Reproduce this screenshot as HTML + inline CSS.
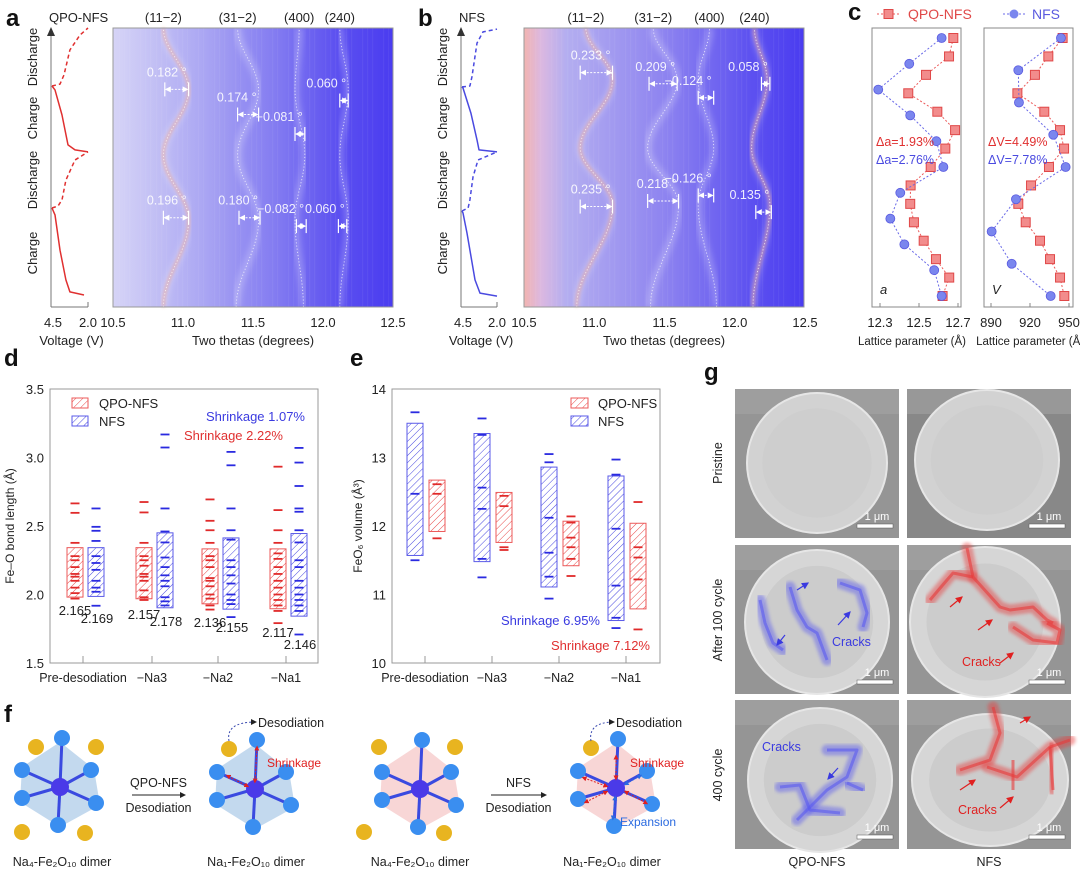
<!DOCTYPE html>
<html><head><meta charset="utf-8">
<style>
html,body{margin:0;padding:0;background:#fff;}
svg{display:block;font-family:"Liberation Sans",Arial,sans-serif;}
</style></head>
<body>
<svg id="fig" width="1080" height="871" viewBox="0 0 1080 871" xmlns="http://www.w3.org/2000/svg">
<defs>
<linearGradient id="gA" x1="0" x2="1" y1="0" y2="0">
<stop offset="0" stop-color="#d6d4f6"/><stop offset="0.3" stop-color="#aeaaf3"/><stop offset="0.6" stop-color="#8078f1"/><stop offset="0.8" stop-color="#5c50f0"/><stop offset="1" stop-color="#4a3cf0"/>
</linearGradient>
<linearGradient id="gB" x1="0" x2="1" y1="0" y2="0">
<stop offset="0" stop-color="#f2b4b0"/><stop offset="0.06" stop-color="#dcb8e0"/><stop offset="0.15" stop-color="#b4aef0"/><stop offset="0.5" stop-color="#8e84f0"/><stop offset="0.8" stop-color="#5e52f0"/><stop offset="1" stop-color="#4a3cf0"/>
</linearGradient>
<filter id="blur4"><feGaussianBlur stdDeviation="3"/></filter>
<filter id="blur2"><feGaussianBlur stdDeviation="1.5"/></filter>
<pattern id="hatchR" width="5" height="5" patternUnits="userSpaceOnUse" patternTransform="rotate(45)"><line x1="0" y1="0" x2="0" y2="5" stroke="#e84848" stroke-width="1"/></pattern>
<pattern id="hatchB" width="5" height="5" patternUnits="userSpaceOnUse" patternTransform="rotate(45)"><line x1="0" y1="0" x2="0" y2="5" stroke="#4848e0" stroke-width="1"/></pattern>
<marker id="ahW" markerWidth="6" markerHeight="6" refX="3" refY="3" orient="auto-start-reverse"><path d="M0,0 L6,3 L0,6z" fill="#fff"/></marker>
<marker id="ahK" markerWidth="6" markerHeight="6" refX="5" refY="3" orient="auto"><path d="M0,0 L6,3 L0,6z" fill="#222"/></marker>
<marker id="ahR" markerWidth="5" markerHeight="5" refX="2.5" refY="2.5" orient="auto-start-reverse"><path d="M0,0 L5,2.5 L0,5z" fill="#e02020"/></marker>
<marker id="ahBl" markerWidth="5" markerHeight="5" refX="2.5" refY="2.5" orient="auto-start-reverse"><path d="M0,0 L5,2.5 L0,5z" fill="#2a6ae0"/></marker>
<marker id="ahP" markerWidth="6" markerHeight="6" refX="5" refY="3" orient="auto"><path d="M0,0 L6,3 L0,6z" fill="#3a3ae0"/></marker>
<marker id="ahRd" markerWidth="6" markerHeight="6" refX="5" refY="3" orient="auto"><path d="M0,0 L6,3 L0,6z" fill="#e02020"/></marker>
</defs>
<g id="root"></g>
</svg>
<script>
// ---------- data: panel a/b heatmap peak tracks ----------
const nodeTimeA = [0, 31.2, 54.5, 77.8, 100];
const peakNamesAB = ["(11\u22122)", "(31\u22122)", "(400)", "(240)"];
const peakA_112 = [10.86, 11.04, 10.86, 11.04, 10.86];
const peakA_312 = [11.38, 11.54, 11.39, 11.54, 11.39];
const peakA_400 = [11.86, 11.80, 11.87, 11.80, 11.83];
const peakA_240 = [12.12, 12.18, 12.12, 12.18, 12.12];
const nodeTimeB = [0, 36.6, 57, 81.4, 100];
const peakB_112 = [10.875, 11.13, 10.90, 11.13, 10.94];
const peakB_312 = [11.40, 11.60, 11.38, 11.59, 11.42];
const peakB_400 = [11.87, 11.74, 11.85, 11.74, 11.82];
const peakB_240 = [12.13, 12.25, 12.12, 12.23, 12.14];
const thetaTicks = [10.5, 11.0, 11.5, 12.0, 12.5];
// voltage profiles (time 0-100, voltage V)
const vA_t1 = [4.3,5.4,9.7,20.4,33.0,35.5], vA_v1 = [2.27,3.22,3.49,3.89,4.23,4.43];
const vA_t2 = [35.5,36.2,38.4,45.5,52.7,55.6], vA_v2 = [4.43,4.03,3.76,3.49,2.88,2.0];
const vA_t3 = [55.6,56.3,58.1,68.8,77.8,79.2], vA_v3 = [2.0,2.88,3.35,3.76,4.23,4.43];
const vA_t4 = [79.2,79.9,83.2,92.1,97.5,100], vA_v4 = [4.43,3.89,3.62,3.22,2.54,2.0];
const vB_t1 = [3.9,5.0,9.7,26.5,33.7,34.4], vB_v1 = [2.0,3.18,3.53,4.08,4.36,4.43];
const vB_t2 = [34.4,35.5,38.4,46.6,52.7,55.6], vB_v2 = [4.43,4.01,3.88,3.67,3.32,2.0];
const vB_t3 = [55.6,56.3,59.9,69.5,78.5,78.9], vB_v3 = [2.0,3.25,3.39,3.81,4.36,4.43];
const vB_t4 = [78.9,79.2,82.4,94.6,98.6,99.6], vB_v4 = [4.43,3.88,3.74,3.39,2.97,2.0];
// annotations (label, theta1, theta2, time)
const annA_lab = ["0.182 \u00b0","0.174 \u00b0","\u22120.081 \u00b0","0.060 \u00b0","0.196 \u00b0","0.180 \u00b0","\u22120.082 \u00b0","0.060 \u00b0"];
const annA_t1 = [10.87,11.39,11.80,12.12,10.86,11.40,11.81,12.11];
const annA_t2 = [11.04,11.54,11.87,12.18,11.04,11.55,11.88,12.17];
const annA_time = [78,69,62,74,32,32,29,29];
const annB_lab = ["0.233 \u00b0","0.209 \u00b0","\u22120.124 \u00b0","0.058 \u00b0","0.235 \u00b0","0.218 \u00b0","\u22120.126 \u00b0","0.135 \u00b0"];
const annB_t1 = [10.90,11.39,11.74,12.19,10.90,11.38,11.74,12.15];
const annB_t2 = [11.13,11.59,11.85,12.25,11.13,11.60,11.85,12.26];
const annB_time = [84,80,75,80,36,38,40,34];
// ---------- panel c ----------
const cTicksA = [12.3, 12.5, 12.7];
const cTicksV = [890, 920, 950];
const cQPO_a = [12.676,12.654,12.536,12.445,12.594,12.685,12.635,12.56,12.457,12.455,12.474,12.524,12.587,12.655,12.621];
const cNFS_a = [12.616,12.45,12.291,12.455,12.589,12.625,12.404,12.353,12.425,12.578,12.616];
const cQPO_V = [945.1,934.1,923.8,910.3,931,943.1,946.2,934.6,920.8,911,916.7,927.7,935.4,943.1,946.4];
const cNFS_V = [943.8,911,911.5,937.9,947.4,909.2,890.5,905.9,935.9];
// ---------- panel d ----------
const dCats = ["Pre-desodiation","\u2212Na3","\u2212Na2","\u2212Na1"];
const dTicks = [1.5,2.0,2.5,3.0,3.5];
const dRedLo = [1.981,1.969,1.932,1.896], dRedHi = [2.342,2.342,2.333,2.333];
const dBlueLo = [1.986,1.903,1.893,1.842], dBlueHi = [2.342,2.45,2.413,2.445];
const dRedMean = ["2.165","2.157","2.136","2.117"];
const dBlueMean = ["2.169","2.178","2.155","2.146"];
const dRedDash = [[2.665,2.596,2.377,2.28,2.25,2.2,2.15,2.13,2.1,2.05,2.01,1.97],[2.675,2.599,2.377,2.28,2.25,2.21,2.15,2.13,2.1,2.03,1.98,1.96],[2.694,2.538,2.469,2.377,2.28,2.25,2.2,2.12,2.1,2.06,2.0,1.97,1.92,1.89],[2.933,2.616,2.469,2.377,2.3,2.26,2.2,2.15,2.1,2.05,2.0,1.96,1.92,1.88,1.791]];
const dBlueDash = [[2.628,2.494,2.465,2.391,2.28,2.23,2.18,2.1,2.05,2.02,1.918],[3.168,3.073,2.628,2.46,2.38,2.27,2.2,2.14,2.1,2.06,1.98,1.95,1.92],[3.041,2.943,2.628,2.469,2.4,2.25,2.2,2.14,2.08,2.0,1.96,1.93,1.835],[3.07,2.963,2.792,2.628,2.604,2.469,2.38,2.25,2.2,2.1,2.05,2.0,1.96,1.92,1.88,1.708]];
// ---------- panel e ----------
const eTicks = [10,11,12,13,14];
const eBlueLo = [11.57,11.48,11.11,10.62], eBlueHi = [13.50,13.35,12.86,12.73];
const eRedLo = [11.92,11.76,11.42,10.79], eRedHi = [12.67,12.49,12.07,12.04];
const eBlueDash = [[13.66,12.47,11.50],[13.57,13.33,12.56,12.25,11.52,11.25],[13.05,12.93,12.12,11.61,11.26,10.94],[12.97,12.75,11.96,11.13,10.66,10.51]];
const eRedDash = [[12.61,12.47,11.82],[12.44,12.29,11.69,11.65],[12.14,12.05,11.83,11.69,11.52,11.27],[12.35,11.69,11.54,11.22,10.49]];

// ---------- helpers ----------
const NS = "http://www.w3.org/2000/svg";
const root = document.getElementById("root");
function mk(tag, attrs, parent){const e=document.createElementNS(NS,tag);for(const k in attrs)e.setAttribute(k,attrs[k]);(parent||root).appendChild(e);return e;}
function txt(x,y,s,attrs,parent){const e=mk("text",Object.assign({x:x,y:y},attrs||{}),parent);e.textContent=s;return e;}
function grp(name,parent){const g=mk("g",{},parent);


return g;}
const yT = t => 307 - t*2.79;
const xA = v => 113 + (v-10.5)*140;
const xB = v => 524 + (v-10.5)*140.5;
function smoothTrack(times, vals, xf){
  let d=""; const N=60;
  for(let i=0;i<times.length-1;i++){
    for(let k=0;k<=N;k++){
      if(i>0&&k===0)continue;
      const f=k/N, w=(1-Math.cos(Math.PI*f))/2;
      const v=vals[i]+(vals[i+1]-vals[i])*w, t=times[i]+(times[i+1]-times[i])*f;
      d+=(d?"L":"M")+xf(v).toFixed(1)+","+yT(t).toFixed(1);
    }
  }
  return d;
}
function heatPanel(name, x0, x1, grad, xf, times, tracks, hot, tLab, vx0, vx1, vCol, vTimes, vVals, annLab, annT1, annT2, annTime, title, letter, lx){
  const g=grp(name);
  txt(lx,26,letter,{"font-size":24,"font-weight":"bold","fill":"#111"},g);
  const hm=grp(name+"-heatmap",g);
  mk("rect",{x:x0,y:28,width:x1-x0,height:279,fill:"url(#"+grad+")"},hm);
  for(let i=0;i<40;i++){const xx=x0+((i*37)%(x1-x0));mk("rect",{x:xx,y:28,width:1.2,height:279,fill:"#fff",opacity:0.05},hm);}
  tracks.forEach((tr,i)=>{
    const d=smoothTrack(times,tr,xf);
    const band=mk("path",{d:d,fill:"none",stroke:"#fff","stroke-width":8,opacity:0.22,filter:"url(#blur4)"},hm);
    
    
    if(hot[i]){const h=mk("path",{d:d,fill:"none",stroke:"#f4a286","stroke-width":3,opacity:0.55,filter:"url(#blur2)"},hm);
      
      }
    const dl=mk("path",{d:d,fill:"none",stroke:"#fff","stroke-width":0.9,"stroke-dasharray":"1.2 2",opacity:0.75},hm);
    
    
    const lab=txt(xf(tr[tr.length-1]),22,peakNamesAB[i],{"font-size":13,"text-anchor":"middle",fill:"#222"},g);
    
    
  });
  mk("rect",{x:x0,y:28,width:x1-x0,height:279,fill:"none",stroke:"#999","stroke-width":1},hm);
  thetaTicks.forEach(v=>{const t=txt(xf(v),327,v.toFixed(1),{"font-size":13,"text-anchor":"middle",fill:"#222"},g);
    
    });
  const xl=txt((x0+x1)/2,345,"Two thetas (degrees)",{"font-size":13,"text-anchor":"middle",fill:"#222"},g);
  
  
  annLab.forEach((s,i)=>{
    const a=xf(annT1[i]), b=xf(annT2[i]), y=yT(annTime[i]);
    const ag=grp("shift-annotation",g);
    mk("line",{x1:a,y1:y-7,x2:a,y2:y+7,stroke:"#fff","stroke-width":1.2},ag);
    mk("line",{x1:b,y1:y-7,x2:b,y2:y+7,stroke:"#fff","stroke-width":1.2},ag);
    mk("line",{x1:a+3,y1:y,x2:b-3,y2:y,stroke:"#fff","stroke-width":1,"stroke-dasharray":"2 1.5","marker-start":"url(#ahW)","marker-end":"url(#ahW)"},ag);
    txt(b-2,y-13,s,{"font-size":12.5,"text-anchor":"end",fill:"#fff",opacity:0.9},ag);
  });
  const vg=grp(name+"-voltage",g);
  const xv=v=>vx0+(4.5-v)/2.5*(vx1-vx0);
  mk("line",{x1:vx0,y1:307,x2:vx0,y2:34,stroke:"#777","stroke-width":1},vg);
  mk("path",{d:`M${vx0-4},36 L${vx0+4},36 L${vx0},27z`,fill:"#333"},vg);
  mk("line",{x1:vx0,y1:307,x2:vx1,y2:307,stroke:"#777","stroke-width":1},vg);
  mk("line",{x1:vx0,y1:307,x2:vx0,y2:302,stroke:"#777"},vg);
  mk("line",{x1:vx1,y1:307,x2:vx1,y2:302,stroke:"#777"},vg);
  txt(vx0+2,327,"4.5",{"font-size":13,"text-anchor":"middle",fill:"#222"},vg);
  txt(vx1,327,"2.0",{"font-size":13,"text-anchor":"middle",fill:"#222"},vg);
  txt((vx0+vx1)/2+2,345,"Voltage (V)",{"font-size":13,"text-anchor":"middle",fill:"#222"},vg);
  txt(vx0-2,22,title,{"font-size":13,"text-anchor":"start",fill:"#222"},vg);
  vTimes.forEach((tt,i)=>{
    let d=""; tt.forEach((t,k)=>{d+=(k?"L":"M")+xv(vVals[i][k]).toFixed(1)+","+yT(t).toFixed(1);});
    const p=mk("path",{d:d,fill:"none",stroke:vCol,"stroke-width":1.5,"stroke-dasharray":i%2?"4 3":"none","stroke-linejoin":"round"},vg);
    
    
  });
  const seg=[["Charge",253],["Discharge",180],["Charge",118],["Discharge",57]];
  seg.forEach(s=>{txt(0,0,s[0],{"font-size":13,"text-anchor":"middle",fill:"#222",transform:`translate(${vx0-14},${s[1]}) rotate(-90)`},vg);});
}
heatPanel("panel-a",113,393,"gA",xA,nodeTimeA,[peakA_112,peakA_312,peakA_400,peakA_240],[true,false,false,false],null,51,88,"#e03030",
  [vA_t1,vA_t2,vA_t3,vA_t4],[vA_v1,vA_v2,vA_v3,vA_v4],annA_lab,annA_t1,annA_t2,annA_time,"QPO-NFS","a",6);
heatPanel("panel-b",524,804,"gB",xB,nodeTimeB,[peakB_112,peakB_312,peakB_400,peakB_240],[true,false,false,true],null,461,497,"#4a4ae0",
  [vB_t1,vB_t2,vB_t3,vB_t4],[vB_v1,vB_v2,vB_v3,vB_v4],annB_lab,annB_t1,annB_t2,annB_time,"NFS","b",418);

// ---------- panel c ----------
(function(){
  const g=grp("panel-c");
  txt(848,20,"c",{"font-size":24,"font-weight":"bold",fill:"#111"},g);
  const top=38, bot=296;
  const xa=v=>880+(v-12.3)/0.2*39, xV=v=>991+(v-890)*1.3;
  function sub(bx,ticks,xf,red,blue,lbl,unit,italic,ux){
    const sg=grp("subplot-"+italic,g);
    mk("rect",{x:bx,y:28,width:89,height:279,fill:"none",stroke:"#888"},sg);
    ticks.forEach(v=>{mk("line",{x1:xf(v),y1:307,x2:xf(v),y2:303,stroke:"#888"},sg);
      const t=txt(xf(v),327,String(v),{"font-size":13,"text-anchor":"middle",fill:"#222"},sg);
      
      });
    txt(ux,345,unit,{"font-size":11.5,"text-anchor":"middle",fill:"#222"},sg);
    txt(bx+8,294,italic,{"font-size":13,"font-style":"italic",fill:"#222"},sg);
    [[red,"#ec5a5a","sq"],[blue,"#6a6ae8","ci"]].forEach(([arr,col,shape])=>{
      const yy=i=>top+i*(bot-top)/(arr.length-1);
      let d="";arr.forEach((v,i)=>{d+=(i?"L":"M")+xf(v).toFixed(1)+","+yy(i).toFixed(1);});
      mk("path",{d:d,fill:"none",stroke:col,"stroke-width":1,"stroke-dasharray":"2 2"},sg);
      arr.forEach((v,i)=>{
        let m;
        if(shape==="sq") m=mk("rect",{x:xf(v)-4.5,y:yy(i)-4.5,width:9,height:9,fill:"#f28c8c",stroke:"#e04848","stroke-width":1},sg);
        else m=mk("circle",{cx:xf(v),cy:yy(i),r:4.5,fill:"#7a86ee",stroke:"#5a5ae0","stroke-width":0.8},sg);
        
        
      });
    });
  }
  sub(872,cTicksA,xa,cQPO_a,cNFS_a,"a","Lattice parameter (\u00c5)","a",912);
  sub(984,cTicksV,xV,cQPO_V,cNFS_V,"V","Lattice parameter (\u00c5\u00b3)","V",1032);
  txt(876,146,"\u0394a=1.93%",{"font-size":12.5,fill:"#e03030"},g);
  txt(876,164,"\u0394a=2.76%",{"font-size":12.5,fill:"#4a4ae0"},g);
  txt(988,146,"\u0394V=4.49%",{"font-size":12.5,fill:"#e03030"},g);
  txt(988,164,"\u0394V=7.78%",{"font-size":12.5,fill:"#4a4ae0"},g);
  const lg=grp("legend-c",g);
  mk("line",{x1:877,y1:14,x2:899,y2:14,stroke:"#ec5a5a","stroke-dasharray":"2 2"},lg);
  mk("rect",{x:884,y:9.5,width:9,height:9,fill:"#f28c8c",stroke:"#e04848"},lg);
  txt(908,19,"QPO-NFS",{"font-size":14,fill:"#e04848"},lg);
  mk("line",{x1:1003,y1:14,x2:1025,y2:14,stroke:"#6a6ae8","stroke-dasharray":"2 2"},lg);
  mk("circle",{cx:1014,cy:14,r:4.5,fill:"#7a86ee"},lg);
  txt(1032,19,"NFS",{"font-size":14,fill:"#5a5ae0"},lg);
})();

// ---------- panels d & e (box charts) ----------
function boxChart(name,letter,lx,bx0,bx1,ylo,yhi,ticks,tickFmt,ticksX,yTitle,titleX,redOff,blueOff,rLo,rHi,bLo,bHi,rDash,bDash){
  const g=grp(name);
  const Y=v=>663-(v-ylo)/(yhi-ylo)*274;
  txt(lx,366,letter,{"font-size":24,"font-weight":"bold",fill:"#111"},g);
  mk("rect",{x:bx0,y:389,width:bx1-bx0,height:274,fill:"none",stroke:"#999"},g);
  ticks.forEach(v=>{const t=txt(bx0-6,Y(v)+5,tickFmt(v),{"font-size":13,"text-anchor":"end",fill:"#222"},g);
    
    });
  const yl=txt(0,0,yTitle,{"font-size":12,"text-anchor":"middle",fill:"#222",transform:`translate(${titleX},526) rotate(-90)`},g);
  
  
  dCats.forEach((c,i)=>{
    const tx=ticksX[i];
    mk("line",{x1:tx,y1:663,x2:tx,y2:656,stroke:"#999"},g);
    const cl=txt(tx,682,c,{"font-size":12.5,"text-anchor":"middle",fill:"#222"},g);
    
    
    [[rLo,rHi,rDash,redOff,"R","#e02a2a"],[bLo,bHi,bDash,blueOff,"B","#2a2ae0"]].forEach(([lo,hi,ds,off,h,col])=>{
      const x=tx+off;
      const r=mk("rect",{x:x,y:Y(hi[i]),width:16,height:Y(lo[i])-Y(hi[i]),fill:"url(#hatch"+h+")",stroke:h==="R"?"#ec5a5a":"#5a5ae8","stroke-width":1},g);
      
      
      ds[i].forEach(v=>{const l=mk("line",{x1:x+3.5,x2:x+12.5,y1:Y(v),y2:Y(v),stroke:col,"stroke-width":1.8},g);
        
        });
    });
  });
  return {g:g,Y:Y};
}
const dch=boxChart("panel-d","d",4,50,318,1.5,3.5,dTicks,v=>v.toFixed(1),[83,152,218,286],"Fe\u2013O bond length (\u00c5)",14,-16,5,dRedLo,dRedHi,dBlueLo,dBlueHi,dRedDash,dBlueDash);
dRedMean.forEach((s,i)=>{const t=txt([83,152,218,286][i]-8,[615,619,627,637][i],s,{"font-size":13,"text-anchor":"middle",fill:"#222"},dch.g);
  
  });
dBlueMean.forEach((s,i)=>{const t=txt([83,152,218,286][i]+14,[623,626,632,649][i],s,{"font-size":13,"text-anchor":"middle",fill:"#222"},dch.g);
  
  });
(function(g){
  mk("rect",{x:72,y:398,width:16,height:10,fill:"url(#hatchR)",stroke:"#ec5a5a"},g);
  txt(99,408,"QPO-NFS",{"font-size":13,fill:"#222"},g);
  mk("rect",{x:72,y:416,width:16,height:10,fill:"url(#hatchB)",stroke:"#5a5ae8"},g);
  txt(99,426,"NFS",{"font-size":13,fill:"#222"},g);
  txt(305,421,"Shrinkage 1.07%",{"font-size":13,"text-anchor":"end",fill:"#3a3ae0"},g);
  txt(283,440,"Shrinkage 2.22%",{"font-size":13,"text-anchor":"end",fill:"#e03030"},g);
})(dch.g);
const ech=boxChart("panel-e","e",350,392,660,10,14,eTicks,v=>String(v),[425,492,559,626],"FeO\u2086 volume (\u00c5\u00b3)",362,4,-18,eRedLo,eRedHi,eBlueLo,eBlueHi,eRedDash,eBlueDash);
(function(g){
  mk("rect",{x:571,y:398,width:17,height:10,fill:"url(#hatchR)",stroke:"#ec5a5a"},g);
  txt(598,408,"QPO-NFS",{"font-size":13,fill:"#222"},g);
  mk("rect",{x:571,y:416,width:17,height:10,fill:"url(#hatchB)",stroke:"#5a5ae8"},g);
  txt(598,426,"NFS",{"font-size":13,fill:"#222"},g);
  txt(600,625,"Shrinkage 6.95%",{"font-size":13,"text-anchor":"end",fill:"#3a3ae0"},g);
  txt(650,650,"Shrinkage 7.12%",{"font-size":13,"text-anchor":"end",fill:"#e03030"},g);
})(ech.g);

// ---------- panel f ----------
(function(){
  const g=grp("panel-f");
  txt(4,722,"f",{"font-size":24,"font-weight":"bold",fill:"#111"},g);
  const Odx=[2,-38,31,-38,36,-2], Ody=[-49,-17,-17,11,16,38];
  function struct(cx,cy,poly,na,name){
    const sg=grp(name,g);
    mk("path",{d:"M"+(cx)+","+(cy-45)+"L"+(cx+34)+","+(cy-18)+"L"+(cx+40)+","+(cy+18)+"L"+(cx)+","+(cy+40)+"L"+(cx-40)+","+(cy+15)+"L"+(cx-38)+","+(cy-20)+"z",fill:poly,opacity:0.8},sg);
    Odx.forEach((dx,i)=>mk("line",{x1:cx,y1:cy,x2:cx+dx,y2:cy+Ody[i],stroke:"#3a4ae0","stroke-width":3},sg));
    na.forEach(p=>mk("circle",{cx:cx+p[0],cy:cy+p[1],r:8,fill:"#e8b420"},sg));
    Odx.forEach((dx,i)=>mk("circle",{cx:cx+dx,cy:cy+Ody[i],r:8,fill:"#3a8ef0"},sg));
    mk("circle",{cx:cx,cy:cy,r:9,fill:"#4a3ae8"},sg);
  }
  struct(60,787,"#b4cfea",[[-24,-40],[36,-40],[-38,45],[25,46]],"na4-structure-qpo");
  struct(255,789,"#b4cfea",[[-26,-40]],"na1-structure-qpo");
  struct(420,789,"#f6cccc",[[-41,-42],[35,-42],[-56,43],[24,44]],"na4-structure-nfs");
  struct(616,788,"#f6cccc",[[-25,-40]],"na1-structure-nfs");
  [[132,185,"QPO-NFS"],[491,546,"NFS"]].forEach(a=>{
    mk("line",{x1:a[0],y1:795,x2:a[1],y2:795,stroke:"#222","stroke-width":1,"marker-end":"url(#ahK)"},g);
    txt((a[0]+a[1])/2,787,a[2],{"font-size":12.5,"text-anchor":"middle",fill:"#222"},g);
    txt((a[0]+a[1])/2,812,"Desodiation",{"font-size":12.5,"text-anchor":"middle",fill:"#222"},g);
  });
  [[229,256],[591,614]].forEach(p=>{
    mk("path",{d:`M${p[0]},741 C${p[0]-2},730 ${p[0]+4},722 ${p[1]},722`,fill:"none",stroke:"#3a4ab0","stroke-dasharray":"2 2","marker-end":"url(#ahK)"},g);
    txt(p[1]+2,727,"Desodiation",{"font-size":12.5,fill:"#222"},g);
  });
  txt(267,767,"Shrinkage",{"font-size":12,fill:"#e02020"},g);
  txt(630,767,"Shrinkage",{"font-size":12,fill:"#e02020"},g);
  txt(620,826,"Expansion",{"font-size":12,fill:"#2a6ae0"},g);
  mk("line",{x1:257,y1:748,x2:255,y2:781,stroke:"#e02020","stroke-dasharray":"2 1.5","marker-start":"url(#ahR)","marker-end":"url(#ahR)"},g);
  mk("line",{x1:228,y1:776,x2:247,y2:786,stroke:"#e02020","stroke-dasharray":"2 1.5","marker-start":"url(#ahR)","marker-end":"url(#ahR)"},g);
  [[616,757,616,778],[584,778,606,786],[586,802,606,792],[646,803,626,792],[640,776,626,784]].forEach(l=>
    mk("line",{x1:l[0],y1:l[1],x2:l[2],y2:l[3],stroke:l[0]===640?"#2a6ae0":"#e02020","stroke-dasharray":"2 1.5","marker-start":l[0]===640?"url(#ahBl)":"url(#ahR)","marker-end":l[0]===640?"url(#ahBl)":"url(#ahR)"},g));
  mk("line",{x1:615,y1:798,x2:613,y2:818,stroke:"#2a6ae0","stroke-dasharray":"2 1.5","marker-start":"url(#ahBl)","marker-end":"url(#ahBl)"},g);
  [[62,"Na\u2084-Fe\u2082O\u2081\u2080 dimer"],[256,"Na\u2081-Fe\u2082O\u2081\u2080 dimer"],[420,"Na\u2084-Fe\u2082O\u2081\u2080 dimer"],[612,"Na\u2081-Fe\u2082O\u2081\u2080 dimer"]].forEach(l=>{
    const t=txt(l[0],866,l[1],{"font-size":12.5,"text-anchor":"middle",fill:"#222"},g);
    
    
  });
})();

// ---------- panel g (SEM images) ----------
(function(){
  const g=grp("panel-g");
  txt(704,380,"g",{"font-size":24,"font-weight":"bold",fill:"#111"},g);
  const cols=[735,907], rows=[389,545,700], W=164, H=149;
  const parts=[[[82,74,70,70],[80,71,72,70]],[[82,77,72,72],[78,77,75,75]],[[85,80,72,72],[83,80,78,66]]];
  rows.forEach((ry,r)=>cols.forEach((cx,c)=>{
    const tg=grp("sem-image",g);
    mk("rect",{x:cx,y:ry,width:W,height:H,fill:c===1&&r===0?"#888":"#959595"},tg);
    mk("rect",{x:cx,y:ry,width:W,height:25,fill:"#a8a8a8",opacity:0.5},tg);
    const p=parts[r][c];
    mk("ellipse",{cx:cx+p[0],cy:ry+p[1],rx:p[2],ry:p[3],fill:r===0?"#d2d2d2":"#d6d6d6",stroke:"#e6e6e6","stroke-width":2},tg);
    mk("ellipse",{cx:cx+p[0],cy:ry+p[1],rx:p[2]*0.78,ry:p[3]*0.78,fill:"#c4c4c4",opacity:r===0?0.25:0.6},tg);
    const sbx=cx+W-42;
    mk("rect",{x:sbx,y:ry+H-14,width:36,height:4,fill:"#fff",stroke:"#555","stroke-width":0.5},tg);
    txt(sbx+20,ry+H-18,"1 \u03bcm",{"font-size":11,"text-anchor":"middle",fill:"#fff"},tg);
  }));
  function crack(pts,col){
    let d="";pts.forEach((p,i)=>{d+=(i?"L":"M")+p[0]+","+p[1];});
    const a=mk("path",{d:d,fill:"none",stroke:col,"stroke-width":11,opacity:0.45,"stroke-linejoin":"round","stroke-linecap":"round",filter:"url(#blur2)"},g);
    
    
    mk("path",{d:d,fill:"none",stroke:col,"stroke-width":3,opacity:0.6,"stroke-linejoin":"round"},g);
  }
  const BL="#5a5af0", RD="#e83a3a";
  crack([[760,600],[765,623],[773,643],[783,650]],BL);
  crack([[790,587],[797,610],[807,627],[817,633],[827,660]],BL);
  crack([[840,583],[860,590],[867,613],[863,627]],BL);
  crack([[967,548],[973,577],[1000,607],[1010,610],[1033,607],[1047,620],[1053,623]],RD);
  crack([[930,600],[953,573],[973,577]],RD);
  crack([[1013,627],[1033,640],[1057,643],[1060,630],[1047,623]],RD);
  crack([[827,750],[857,750],[847,777],[827,790],[797,820]],BL);
  crack([[780,787],[800,785],[810,810],[840,813]],BL);
  crack([[847,783],[863,790]],BL);
  crack([[993,707],[1000,733],[990,760],[960,770]],RD);
  crack([[987,767],[1017,777],[1050,747],[1070,740]],RD);
  crack([[1050,747],[1053,790]],RD);
  crack([[1013,760],[1013,790]],RD);
  [[797,590,808,583],[785,635,777,645],[838,625,850,612],[838,768,828,779]].forEach(a=>mk("line",{x1:a[0],y1:a[1],x2:a[2],y2:a[3],stroke:"#3a3ae0","stroke-width":1.2,"marker-end":"url(#ahP)"},g));
  [[950,607,962,597],[978,630,992,620],[1000,663,1013,653],[960,790,975,780],[1000,808,1013,797],[1020,723,1030,717]].forEach(a=>mk("line",{x1:a[0],y1:a[1],x2:a[2],y2:a[3],stroke:"#e02020","stroke-width":1.2,"marker-end":"url(#ahRd)"},g));
  txt(832,646,"Cracks",{"font-size":12.5,fill:"#3a3ae0"},g);
  txt(962,666,"Cracks",{"font-size":12.5,fill:"#e02020"},g);
  txt(762,751,"Cracks",{"font-size":12.5,fill:"#3a3ae0"},g);
  txt(958,814,"Cracks",{"font-size":12.5,fill:"#e02020"},g);
  [["Pristine",463],["After 100 cycle",620],["400 cycle",775]].forEach(l=>
    txt(0,0,l[0],{"font-size":12.5,"text-anchor":"middle",fill:"#222",transform:`translate(722,${l[1]}) rotate(-90)`},g));
  txt(817,866,"QPO-NFS",{"font-size":12.5,"text-anchor":"middle",fill:"#222"},g);
  txt(989,866,"NFS",{"font-size":12.5,"text-anchor":"middle",fill:"#222"},g);
})();
</script>
</body></html>
